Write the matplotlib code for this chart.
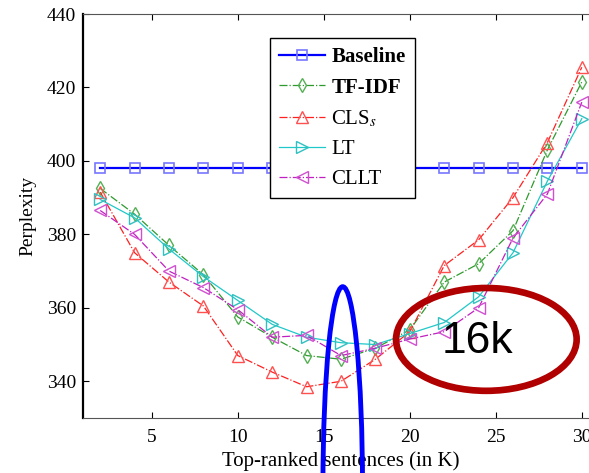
import matplotlib
matplotlib.use("Agg")
import matplotlib.pyplot as plt
from matplotlib.patches import Ellipse

plt.rcParams["font.family"] = ["Liberation Serif", "DejaVu Serif"]
plt.rcParams["mathtext.fontset"] = "stix"

# data
sizes_k = [2, 4, 6, 8, 10, 12, 14, 16, 18, 20, 22, 24, 26, 28, 30]
baseline = [398] * 15
tfidf = [392.5, 385.5, 377, 369, 357.5, 352, 347, 346, 349, 354, 367, 372, 381, 403, 421.5]
cls_s = [391.5, 375, 367, 360.5, 347, 342.5, 338.5, 340, 346, 353.5, 371.5, 378.5, 390, 405, 425.5]
lt = [389.5, 384.5, 376, 368.5, 362, 355.5, 352, 350.5, 350, 353, 356, 363, 375, 394.5, 411.5]
cllt = [386.5, 380, 370, 365.5, 359.5, 352, 352.5, 347, 349, 351.5, 353.5, 360, 379, 391, 416]

xticks = [5, 10, 15, 20, 25, 30]
yticks = [340, 360, 380, 400, 420, 440]

fig = plt.figure(figsize=(5.89, 4.73), dpi=100)
ax = fig.add_axes([83 / 589, 55 / 473, 516 / 589, 404 / 473])

ax.plot(sizes_k, baseline, "-", color="#0000ff", lw=1.6, marker="s", ms=7,
        mfc="none", mec="#7777ff", mew=1.2, label="Baseline")
ax.plot(sizes_k, tfidf, "-.", color="#2e9a2e", lw=0.9, marker="d", ms=7,
        mfc="none", mec="#55b055", mew=1.0, label="TF-IDF")
ax.plot(sizes_k, cls_s, "-.", color="#ff2020", lw=0.9, marker="^", ms=8,
        mfc="none", mec="#ff5050", mew=1.0, label="CLS$_s$")
ax.plot(sizes_k, lt, "-", color="#20c8c8", lw=0.9, marker=">", ms=8,
        mfc="none", mec="#30c0c0", mew=1.0, label="LT")
ax.plot(sizes_k, cllt, "-.", color="#c020c0", lw=0.9, marker="<", ms=8,
        mfc="none", mec="#d050d0", mew=1.0, label="CLLT")

ax.set_xlim(1, 31)
ax.set_ylim(330, 440)
ax.set_xticks(xticks)
ax.set_yticks(yticks)
ax.tick_params(direction="in", top=True, right=True, length=4, labelsize=14)
ax.tick_params(axis="x", pad=8)
ax.tick_params(axis="y", pad=5)
for s in ["top", "bottom"]:
    ax.spines[s].set_color("#555555")
ax.spines["left"].set_linewidth(1.6)

ax.set_ylabel("Perplexity", fontsize=14)
ax.yaxis.set_label_coords(-0.09, 0.5)
ax.set_xlabel("Top-ranked sentences (in K)", fontsize=15)
ax.xaxis.set_label_coords(0.5, -0.082)

leg = ax.legend(loc="upper left", bbox_to_anchor=(270 / 589, 1 - 38 / 473),
                bbox_transform=fig.transFigure, borderaxespad=0, fancybox=False,
                edgecolor="black", framealpha=1, fontsize=15, handlelength=2.2,
                labelspacing=0.5, handletextpad=0.3, borderpad=0.45)
leg.get_frame().set_linewidth(1.0)
for t in leg.get_texts()[:2]:
    t.set_fontweight("bold")

# annotations drawn over the chart
ax.add_patch(Ellipse((16.1, 311.5), 2.3, 108.5, fill=False, color="#0000ff",
                     lw=3.5, clip_on=False, zorder=10))
ax.add_patch(Ellipse((24.45, 351.4), 10.5, 28, fill=False, color="#b00000",
                     lw=4.8, clip_on=False, zorder=10))
ax.text(23.95, 350.9, "16k", fontsize=32, family="Liberation Sans",
        ha="center", va="center", zorder=11)

fig.savefig("out.png", dpi=100)
